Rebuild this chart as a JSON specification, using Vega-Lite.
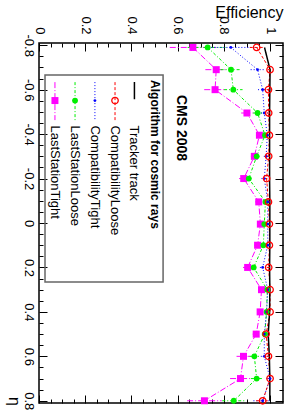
{
  "$schema": "https://vega.github.io/schema/vega-lite/v6.json",
  "width": 244,
  "height": 360,
  "autosize": {"type": "none"},
  "padding": {"left": 39, "top": 43, "right": 15, "bottom": 12},
  "background": "white",
  "config": {
    "view": {"stroke": "black", "strokeWidth": 1.5},
    "font": "Liberation Sans",
    "axis": {"labelColor": "black", "tickColor": "black", "titleColor": "black", "labelFont": "Liberation Sans", "titleFont": "Liberation Sans", "grid": false, "domain": false}
  },
  "datasets": {
    "pts": [
      {"s": "LastStationTight", "eta": -0.79, "eff": 0.666, "lo": 0.566, "hi": 0.766},
      {"s": "LastStationTight", "eta": -0.69, "eff": 0.767, "lo": 0.72, "hi": 0.814},
      {"s": "LastStationTight", "eta": -0.6, "eff": 0.762, "lo": 0.715, "hi": 0.809},
      {"s": "LastStationTight", "eta": -0.495, "eff": 0.9, "lo": 0.875, "hi": 0.925},
      {"s": "LastStationTight", "eta": -0.395, "eff": 0.954, "lo": 0.939, "hi": 0.969},
      {"s": "LastStationTight", "eta": -0.3, "eff": 0.932, "lo": 0.917, "hi": 0.947},
      {"s": "LastStationTight", "eta": -0.2, "eff": 0.886, "lo": 0.866, "hi": 0.906},
      {"s": "LastStationTight", "eta": -0.095, "eff": 0.951, "lo": 0.936, "hi": 0.966},
      {"s": "LastStationTight", "eta": 0.005, "eff": 0.958, "lo": 0.946, "hi": 0.97},
      {"s": "LastStationTight", "eta": 0.1, "eff": 0.946, "lo": 0.931, "hi": 0.961},
      {"s": "LastStationTight", "eta": 0.2, "eff": 0.903, "lo": 0.883, "hi": 0.923},
      {"s": "LastStationTight", "eta": 0.3, "eff": 0.963, "lo": 0.951, "hi": 0.975},
      {"s": "LastStationTight", "eta": 0.4, "eff": 0.957, "lo": 0.945, "hi": 0.969},
      {"s": "LastStationTight", "eta": 0.5, "eff": 0.94, "lo": 0.925, "hi": 0.955},
      {"s": "LastStationTight", "eta": 0.6, "eff": 0.885, "lo": 0.855, "hi": 0.915},
      {"s": "LastStationTight", "eta": 0.7, "eff": 0.872, "lo": 0.827, "hi": 0.917},
      {"s": "LastStationTight", "eta": 0.8, "eff": 0.716, "lo": 0.641, "hi": 0.791},
      {"s": "LastStationLoose", "eta": -0.79, "eff": 0.73, "lo": 0.643, "hi": 0.817},
      {"s": "LastStationLoose", "eta": -0.69, "eff": 0.831, "lo": 0.786, "hi": 0.876},
      {"s": "LastStationLoose", "eta": -0.6, "eff": 0.841, "lo": 0.801, "hi": 0.881},
      {"s": "LastStationLoose", "eta": -0.495, "eff": 0.946, "lo": 0.926, "hi": 0.966},
      {"s": "LastStationLoose", "eta": -0.395, "eff": 0.978, "lo": 0.968, "hi": 0.988},
      {"s": "LastStationLoose", "eta": -0.3, "eff": 0.942, "lo": 0.93, "hi": 0.954},
      {"s": "LastStationLoose", "eta": -0.2, "eff": 0.908, "lo": 0.893, "hi": 0.923},
      {"s": "LastStationLoose", "eta": -0.095, "eff": 0.98, "lo": 0.97, "hi": 0.99},
      {"s": "LastStationLoose", "eta": 0.005, "eff": 0.975, "lo": 0.965, "hi": 0.985},
      {"s": "LastStationLoose", "eta": 0.1, "eff": 0.971, "lo": 0.961, "hi": 0.981},
      {"s": "LastStationLoose", "eta": 0.2, "eff": 0.929, "lo": 0.914, "hi": 0.944},
      {"s": "LastStationLoose", "eta": 0.3, "eff": 0.988, "lo": 0.98, "hi": 0.996},
      {"s": "LastStationLoose", "eta": 0.4, "eff": 0.985, "lo": 0.977, "hi": 0.993},
      {"s": "LastStationLoose", "eta": 0.5, "eff": 0.977, "lo": 0.967, "hi": 0.987},
      {"s": "LastStationLoose", "eta": 0.6, "eff": 0.932, "lo": 0.912, "hi": 0.952},
      {"s": "LastStationLoose", "eta": 0.7, "eff": 0.942, "lo": 0.917, "hi": 0.967},
      {"s": "LastStationLoose", "eta": 0.8, "eff": 0.843, "lo": 0.793, "hi": 0.893},
      {"s": "CompatibilityTight", "eta": -0.79, "eff": 0.83, "lo": 0.72, "hi": 0.94},
      {"s": "CompatibilityTight", "eta": -0.69, "eff": 0.946, "lo": 0.916, "hi": 0.976},
      {"s": "CompatibilityTight", "eta": -0.6, "eff": 0.968, "lo": 0.948, "hi": 0.988},
      {"s": "CompatibilityTight", "eta": -0.495, "eff": 0.975, "lo": 0.96, "hi": 0.99},
      {"s": "CompatibilityTight", "eta": -0.395, "eff": 0.988, "lo": 0.978, "hi": 0.998},
      {"s": "CompatibilityTight", "eta": -0.3, "eff": 0.983, "lo": 0.973, "hi": 0.993},
      {"s": "CompatibilityTight", "eta": -0.2, "eff": 0.975, "lo": 0.963, "hi": 0.987},
      {"s": "CompatibilityTight", "eta": -0.095, "eff": 0.99, "lo": 0.982, "hi": 0.998},
      {"s": "CompatibilityTight", "eta": 0.005, "eff": 0.99, "lo": 0.982, "hi": 0.998},
      {"s": "CompatibilityTight", "eta": 0.1, "eff": 0.99, "lo": 0.982, "hi": 0.998},
      {"s": "CompatibilityTight", "eta": 0.2, "eff": 0.968, "lo": 0.956, "hi": 0.98},
      {"s": "CompatibilityTight", "eta": 0.3, "eff": 0.99, "lo": 0.982, "hi": 0.998},
      {"s": "CompatibilityTight", "eta": 0.4, "eff": 0.985, "lo": 0.977, "hi": 0.993},
      {"s": "CompatibilityTight", "eta": 0.5, "eff": 0.975, "lo": 0.965, "hi": 0.985},
      {"s": "CompatibilityTight", "eta": 0.6, "eff": 0.975, "lo": 0.96, "hi": 0.99},
      {"s": "CompatibilityTight", "eta": 0.7, "eff": 1.0, "lo": 0.985, "hi": 1.0},
      {"s": "CompatibilityTight", "eta": 0.8, "eff": 0.968, "lo": 0.928, "hi": 1.0},
      {"s": "CompatibilityLoose", "eta": -0.79, "eff": 0.942, "lo": 0.912, "hi": 0.972},
      {"s": "CompatibilityLoose", "eta": -0.69, "eff": 1.0, "lo": 0.99, "hi": 1.0},
      {"s": "CompatibilityLoose", "eta": -0.6, "eff": 0.993, "lo": 0.985, "hi": 1.0},
      {"s": "CompatibilityLoose", "eta": -0.495, "eff": 0.994, "lo": 0.986, "hi": 1.0},
      {"s": "CompatibilityLoose", "eta": -0.395, "eff": 0.997, "lo": 0.99, "hi": 1.0},
      {"s": "CompatibilityLoose", "eta": -0.3, "eff": 0.994, "lo": 0.986, "hi": 1.0},
      {"s": "CompatibilityLoose", "eta": -0.2, "eff": 0.985, "lo": 0.975, "hi": 0.995},
      {"s": "CompatibilityLoose", "eta": -0.095, "eff": 0.993, "lo": 0.986, "hi": 1.0},
      {"s": "CompatibilityLoose", "eta": 0.005, "eff": 0.997, "lo": 0.99, "hi": 1.0},
      {"s": "CompatibilityLoose", "eta": 0.1, "eff": 0.997, "lo": 0.99, "hi": 1.0},
      {"s": "CompatibilityLoose", "eta": 0.2, "eff": 0.994, "lo": 0.986, "hi": 1.0},
      {"s": "CompatibilityLoose", "eta": 0.3, "eff": 1.0, "lo": 0.993, "hi": 1.0},
      {"s": "CompatibilityLoose", "eta": 0.4, "eff": 1.0, "lo": 0.993, "hi": 1.0},
      {"s": "CompatibilityLoose", "eta": 0.5, "eff": 0.983, "lo": 0.973, "hi": 0.993},
      {"s": "CompatibilityLoose", "eta": 0.6, "eff": 0.993, "lo": 0.985, "hi": 1.0},
      {"s": "CompatibilityLoose", "eta": 0.7, "eff": 1.0, "lo": 0.99, "hi": 1.0},
      {"s": "CompatibilityLoose", "eta": 0.8, "eff": 0.968, "lo": 0.94, "hi": 0.99},
      {"s": "Tracker track", "eta": -0.79, "eff": 0.976},
      {"s": "Tracker track", "eta": -0.69, "eff": 1.0},
      {"s": "Tracker track", "eta": -0.6, "eff": 0.999},
      {"s": "Tracker track", "eta": -0.495, "eff": 0.998},
      {"s": "Tracker track", "eta": -0.395, "eff": 0.998},
      {"s": "Tracker track", "eta": -0.3, "eff": 0.998},
      {"s": "Tracker track", "eta": -0.2, "eff": 0.998},
      {"s": "Tracker track", "eta": -0.095, "eff": 0.999},
      {"s": "Tracker track", "eta": 0.005, "eff": 0.999},
      {"s": "Tracker track", "eta": 0.1, "eff": 0.999},
      {"s": "Tracker track", "eta": 0.2, "eff": 0.998},
      {"s": "Tracker track", "eta": 0.3, "eff": 0.999},
      {"s": "Tracker track", "eta": 0.4, "eff": 0.998},
      {"s": "Tracker track", "eta": 0.5, "eff": 0.992},
      {"s": "Tracker track", "eta": 0.6, "eff": 0.997},
      {"s": "Tracker track", "eta": 0.7, "eff": 0.999},
      {"s": "Tracker track", "eta": 0.8, "eff": 0.999}
    ],
    "leg": [
      {"s": "Tracker track", "eff": 0.413, "e1": -0.634, "e2": -0.557, "et": -0.439},
      {"s": "CompatibilityLoose", "eff": 0.329, "e1": -0.634, "e2": -0.463, "em": -0.551, "et": -0.439},
      {"s": "CompatibilityTight", "eff": 0.242, "e1": -0.634, "e2": -0.463, "em": -0.551, "et": -0.439},
      {"s": "LastStationLoose", "eff": 0.156, "e1": -0.634, "e2": -0.463, "em": -0.551, "et": -0.439},
      {"s": "LastStationTight", "eff": 0.069, "e1": -0.634, "e2": -0.463, "em": -0.551, "et": -0.439}
    ]
  },
  "resolve": {"axis": {"x": "independent", "y": "independent"}},
  "layer": [
    {
      "data": {"values": [{"x1": 0.026, "x2": 0.537, "y1": -0.666, "y2": 0.265}]},
      "mark": {"type": "rect", "fill": "transparent", "stroke": "#666666", "strokeWidth": 1.5},
      "encoding": {
        "x": {"field": "x1", "type": "quantitative", "scale": {"domain": [0, 1.056], "nice": false, "zero": false},
          "axis": {"orient": "top", "values": [0, 0.2, 0.4, 0.6, 0.8, 1], "labelExpr": "datum.value + ''", "ticks": false, "domain": false, "grid": false, "labelAngle": 90, "labelAlign": "right", "labelBaseline": "middle", "labelPadding": 9, "labelFontSize": 13, "labelOverlap": false, "labelFlush": false, "labelBound": false, "title": "Efficiency", "titleAngle": 0, "titleAlign": "right", "titleBaseline": "alphabetic", "titleX": 244, "titleY": -26, "titleFontSize": 16, "titleFontWeight": "normal"}},
        "x2": {"field": "x2"},
        "y": {"field": "y1", "type": "quantitative", "scale": {"domain": [-0.81, 0.81], "nice": false, "zero": false, "reverse": true},
          "axis": {"orient": "left", "values": [-0.8, -0.6, -0.4, -0.2, 0, 0.2, 0.4, 0.6, 0.8], "labelExpr": "datum.value + ''", "ticks": false, "domain": false, "grid": false, "labelAngle": 90, "labelAlign": "center", "labelBaseline": "top", "labelPadding": 5, "labelFontSize": 13, "labelOverlap": false, "labelFlush": false, "labelBound": false, "title": "η", "titleAngle": 90, "titleAlign": "center", "titleBaseline": "middle", "titleX": -26, "titleY": 358, "titleFontSize": 16, "titleFontWeight": "normal"}},
        "y2": {"field": "y2"}
      }
    },
    {
      "data": {"name": "pts"},
      "mark": {"type": "line", "clip": true},
      "encoding": {
        "x": {"field": "eff", "type": "quantitative", "scale": {"domain": [0, 1.056], "nice": false, "zero": false},
          "axis": {"orient": "top", "values": [0, 0.2, 0.4, 0.6, 0.8, 1], "labels": false, "domain": false, "grid": false, "tickSize": -8, "tickWidth": 1, "title": null}},
        "y": {"field": "eta", "type": "quantitative", "scale": {"domain": [-0.81, 0.81], "nice": false, "zero": false, "reverse": true},
          "axis": {"orient": "left", "values": [-0.8, -0.6, -0.4, -0.2, 0, 0.2, 0.4, 0.6, 0.8], "labels": false, "domain": false, "grid": false, "tickSize": -8, "tickWidth": 1, "title": null}},
        "color": {"field": "s", "type": "nominal", "legend": null, "scale": {"domain": ["LastStationTight", "LastStationLoose", "CompatibilityTight", "CompatibilityLoose", "Tracker track"], "range": ["#ff00ff", "#00ee00", "#0000ff", "#ff0000", "#000000"]}},
        "strokeDash": {"field": "s", "type": "nominal", "legend": null, "scale": {"domain": ["LastStationTight", "LastStationLoose", "CompatibilityTight", "CompatibilityLoose", "Tracker track"], "range": [[6, 2, 1, 2], [3, 2, 1, 2], [1, 2], [3, 2], [1, 0]]}},
        "strokeWidth": {"field": "s", "type": "nominal", "legend": null, "scale": {"type": "ordinal", "domain": ["LastStationTight", "LastStationLoose", "CompatibilityTight", "CompatibilityLoose", "Tracker track"], "range": [1, 1, 1, 1, 1.5]}},
        "order": {"field": "eta", "type": "quantitative"}
      }
    },
    {
      "data": {"name": "pts"},
      "transform": [{"filter": "isValid(datum.lo)"}],
      "mark": {"type": "rule"},
      "encoding": {
        "x": {"field": "lo", "type": "quantitative", "scale": {"domain": [0, 1.056], "nice": false, "zero": false},
          "axis": {"orient": "top", "values": [0.05, 0.1, 0.15, 0.25, 0.3, 0.35, 0.45, 0.5, 0.55, 0.65, 0.7, 0.75, 0.85, 0.9, 0.95], "labels": false, "domain": false, "grid": false, "tickSize": -4, "tickWidth": 1, "title": null}},
        "x2": {"field": "hi"},
        "y": {"field": "eta", "type": "quantitative", "scale": {"domain": [-0.81, 0.81], "nice": false, "zero": false, "reverse": true},
          "axis": {"orient": "left", "values": [-0.75, -0.7, -0.65, -0.55, -0.5, -0.45, -0.35, -0.3, -0.25, -0.15, -0.1, -0.05, 0.05, 0.1, 0.15, 0.25, 0.3, 0.35, 0.45, 0.5, 0.55, 0.65, 0.7, 0.75], "labels": false, "domain": false, "grid": false, "tickSize": -4, "tickWidth": 1, "title": null}},
        "color": {"field": "s", "type": "nominal", "legend": null, "scale": {"domain": ["LastStationTight", "LastStationLoose", "CompatibilityTight", "CompatibilityLoose", "Tracker track"], "range": ["#ff00ff", "#00ee00", "#0000ff", "#ff0000", "#000000"]}},
        "strokeDash": {"field": "s", "type": "nominal", "legend": null, "scale": {"domain": ["LastStationTight", "LastStationLoose", "CompatibilityTight", "CompatibilityLoose", "Tracker track"], "range": [[6, 2, 1, 2], [3, 2, 1, 2], [1, 2], [3, 2], [1, 0]]}},
        "strokeWidth": {"field": "s", "type": "nominal", "legend": null, "scale": {"type": "ordinal", "domain": ["LastStationTight", "LastStationLoose", "CompatibilityTight", "CompatibilityLoose", "Tracker track"], "range": [1, 1, 1, 1, 1.5]}}
      }
    },
    {
      "data": {"name": "pts"},
      "transform": [{"filter": "datum.s == 'LastStationTight' || datum.s == 'LastStationLoose' || datum.s == 'CompatibilityTight'"}],
      "mark": {"type": "point", "filled": true, "opacity": 1, "strokeWidth": 0},
      "encoding": {
        "x": {"field": "eff", "type": "quantitative", "scale": {"domain": [0, 1.056], "nice": false, "zero": false},
          "axis": {"orient": "bottom", "values": [0, 0.2, 0.4, 0.6, 0.8, 1], "labels": false, "domain": false, "grid": false, "tickSize": -8, "tickWidth": 1, "title": null}},
        "y": {"field": "eta", "type": "quantitative", "scale": {"domain": [-0.81, 0.81], "nice": false, "zero": false, "reverse": true},
          "axis": {"orient": "right", "values": [-0.8, -0.6, -0.4, -0.2, 0, 0.2, 0.4, 0.6, 0.8], "labels": false, "domain": false, "grid": false, "tickSize": -8, "tickWidth": 1, "title": null}},
        "color": {"field": "s", "type": "nominal", "legend": null, "scale": {"domain": ["LastStationTight", "LastStationLoose", "CompatibilityTight", "CompatibilityLoose", "Tracker track"], "range": ["#ff00ff", "#00ee00", "#0000ff", "#ff0000", "#000000"]}},
        "shape": {"field": "s", "type": "nominal", "legend": null, "scale": {"type": "ordinal", "domain": ["LastStationTight", "LastStationLoose", "CompatibilityTight"], "range": ["square", "circle", "circle"]}},
        "size": {"field": "s", "type": "nominal", "legend": null, "scale": {"type": "ordinal", "domain": ["LastStationTight", "LastStationLoose", "CompatibilityTight"], "range": [49, 34, 8]}}
      }
    },
    {
      "data": {"name": "pts"},
      "transform": [{"filter": "datum.s == 'CompatibilityLoose'"}],
      "mark": {"type": "point", "shape": "circle", "filled": false, "color": "#ff0000", "size": 42, "strokeWidth": 1.3, "opacity": 1},
      "encoding": {
        "x": {"field": "eff", "type": "quantitative", "scale": {"domain": [0, 1.056], "nice": false, "zero": false},
          "axis": {"orient": "bottom", "values": [0.05, 0.1, 0.15, 0.25, 0.3, 0.35, 0.45, 0.5, 0.55, 0.65, 0.7, 0.75, 0.85, 0.9, 0.95], "labels": false, "domain": false, "grid": false, "tickSize": -4, "tickWidth": 1, "title": null}},
        "y": {"field": "eta", "type": "quantitative", "scale": {"domain": [-0.81, 0.81], "nice": false, "zero": false, "reverse": true},
          "axis": {"orient": "right", "values": [-0.75, -0.7, -0.65, -0.55, -0.5, -0.45, -0.35, -0.3, -0.25, -0.15, -0.1, -0.05, 0.05, 0.1, 0.15, 0.25, 0.3, 0.35, 0.45, 0.5, 0.55, 0.65, 0.7, 0.75], "labels": false, "domain": false, "grid": false, "tickSize": -4, "tickWidth": 1, "title": null}}
      }
    },
    {
      "data": {"name": "leg"},
      "mark": {"type": "rule"},
      "encoding": {
        "x": {"field": "eff", "type": "quantitative", "axis": null, "scale": {"domain": [0, 1.056], "nice": false, "zero": false}},
        "y": {"field": "e1", "type": "quantitative", "axis": null, "scale": {"domain": [-0.81, 0.81], "nice": false, "zero": false, "reverse": true}},
        "y2": {"field": "e2"},
        "color": {"field": "s", "type": "nominal", "legend": null, "scale": {"domain": ["LastStationTight", "LastStationLoose", "CompatibilityTight", "CompatibilityLoose", "Tracker track"], "range": ["#ff00ff", "#00ee00", "#0000ff", "#ff0000", "#000000"]}},
        "strokeDash": {"field": "s", "type": "nominal", "legend": null, "scale": {"domain": ["LastStationTight", "LastStationLoose", "CompatibilityTight", "CompatibilityLoose", "Tracker track"], "range": [[6, 2, 1, 2], [3, 2, 1, 2], [1, 2], [3, 2], [1, 0]]}},
        "strokeWidth": {"field": "s", "type": "nominal", "legend": null, "scale": {"type": "ordinal", "domain": ["LastStationTight", "LastStationLoose", "CompatibilityTight", "CompatibilityLoose", "Tracker track"], "range": [1, 1, 1, 1, 1.5]}}
      }
    },
    {
      "data": {"name": "leg"},
      "transform": [{"filter": "datum.s == 'LastStationTight' || datum.s == 'LastStationLoose' || datum.s == 'CompatibilityTight'"}],
      "mark": {"type": "point", "filled": true, "opacity": 1, "strokeWidth": 0},
      "encoding": {
        "x": {"field": "eff", "type": "quantitative", "axis": null, "scale": {"domain": [0, 1.056], "nice": false, "zero": false}},
        "y": {"field": "em", "type": "quantitative", "axis": null, "scale": {"domain": [-0.81, 0.81], "nice": false, "zero": false, "reverse": true}},
        "color": {"field": "s", "type": "nominal", "legend": null, "scale": {"domain": ["LastStationTight", "LastStationLoose", "CompatibilityTight", "CompatibilityLoose", "Tracker track"], "range": ["#ff00ff", "#00ee00", "#0000ff", "#ff0000", "#000000"]}},
        "shape": {"field": "s", "type": "nominal", "legend": null, "scale": {"type": "ordinal", "domain": ["LastStationTight", "LastStationLoose", "CompatibilityTight"], "range": ["square", "circle", "circle"]}},
        "size": {"field": "s", "type": "nominal", "legend": null, "scale": {"type": "ordinal", "domain": ["LastStationTight", "LastStationLoose", "CompatibilityTight"], "range": [49, 34, 8]}}
      }
    },
    {
      "data": {"name": "leg"},
      "transform": [{"filter": "datum.s == 'CompatibilityLoose'"}],
      "mark": {"type": "point", "shape": "circle", "filled": false, "color": "#ff0000", "size": 42, "strokeWidth": 1.3, "opacity": 1},
      "encoding": {
        "x": {"field": "eff", "type": "quantitative", "axis": null, "scale": {"domain": [0, 1.056], "nice": false, "zero": false}},
        "y": {"field": "em", "type": "quantitative", "axis": null, "scale": {"domain": [-0.81, 0.81], "nice": false, "zero": false, "reverse": true}}
      }
    },
    {
      "data": {"name": "leg"},
      "mark": {"type": "text", "angle": 90, "align": "left", "baseline": "middle", "fontSize": 13, "font": "Liberation Sans", "color": "black"},
      "encoding": {
        "x": {"field": "eff", "type": "quantitative", "axis": null, "scale": {"domain": [0, 1.056], "nice": false, "zero": false}},
        "y": {"field": "et", "type": "quantitative", "axis": null, "scale": {"domain": [-0.81, 0.81], "nice": false, "zero": false, "reverse": true}},
        "text": {"field": "s"}
      }
    },
    {
      "data": {"values": [{"t": "Algorithm for cosmic rays", "eff": 0.502, "eta": -0.643}]},
      "mark": {"type": "text", "angle": 90, "align": "left", "baseline": "middle", "fontSize": 12, "fontWeight": "bold", "font": "Liberation Sans", "color": "black"},
      "encoding": {
        "x": {"field": "eff", "type": "quantitative", "axis": null, "scale": {"domain": [0, 1.056], "nice": false, "zero": false}},
        "y": {"field": "eta", "type": "quantitative", "axis": null, "scale": {"domain": [-0.81, 0.81], "nice": false, "zero": false, "reverse": true}},
        "text": {"field": "t"}
      }
    },
    {
      "data": {"values": [{"t": "CMS 2008", "eff": 0.615, "eta": -0.576}]},
      "mark": {"type": "text", "angle": 90, "align": "left", "baseline": "middle", "fontSize": 14, "fontWeight": "bold", "font": "Liberation Sans", "color": "black"},
      "encoding": {
        "x": {"field": "eff", "type": "quantitative", "axis": null, "scale": {"domain": [0, 1.056], "nice": false, "zero": false}},
        "y": {"field": "eta", "type": "quantitative", "axis": null, "scale": {"domain": [-0.81, 0.81], "nice": false, "zero": false, "reverse": true}},
        "text": {"field": "t"}
      }
    }
  ]
}
